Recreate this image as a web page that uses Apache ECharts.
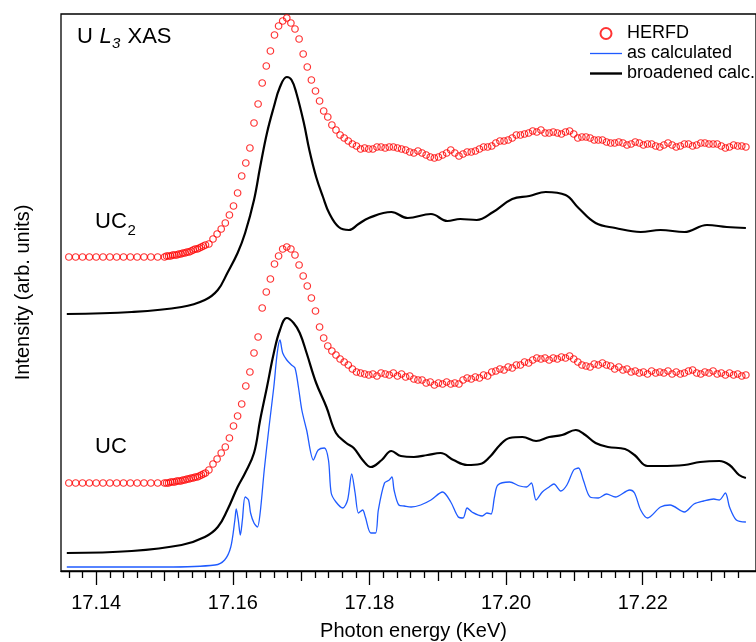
<!DOCTYPE html>
<html><head><meta charset="utf-8">
<script src="https://cdn.jsdelivr.net/npm/echarts@6/dist/echarts.min.js"></script>
<style>html,body{margin:0;padding:0;background:#fff}#c{width:756px;height:642px}</style>
</head><body><div id="c"></div>
<script>
// Photon energies (keV) of the HERFD measurement points
const herfdEnergy = [
17.136,17.137,17.138,17.139,17.140,17.141,17.142,17.143,17.144,17.145,17.146,17.147,17.148,17.149,17.150,
17.1503,17.1506,17.1509,17.1512,17.1515,17.1518,17.1521,17.1524,17.1527,17.1530,17.1533,17.1536,17.1539,17.1542,17.1545,17.1548,17.1551,17.1554,17.1557,17.1560,
17.1565,17.1571,17.1577,17.1583,17.1589,17.1595,17.1601,17.1607,17.1613,17.1619,
17.1625,17.1631,17.1637,17.1643,17.1649,17.1655,17.1661,17.1667,17.1673,17.1679,
17.1685,17.1691,17.1697,17.1703,17.1709,17.1715,17.1721,17.1727,17.1733,17.1739,
17.1745,17.1751,17.1757,17.1763,17.1769,17.1775,17.1781,17.1787,17.1793,17.1799,
17.1805,17.1811,17.1817,17.1823,17.1829,17.1835,17.1841,17.1847,17.1853,17.1859,
17.1865,17.1871,17.1877,17.1883,17.1889,17.1895,17.1901,17.1907,17.1913,17.1919,
17.1925,17.1931,17.1937,17.1943,17.1949,17.1955,17.1961,17.1967,17.1973,17.1979,
17.1985,17.1991,17.1997,17.2003,17.2009,17.2015,17.2021,17.2027,17.2033,17.2039,
17.2045,17.2051,17.2057,17.2063,17.2069,17.2075,17.2081,17.2087,17.2093,17.2099,
17.2105,17.2111,17.2117,17.2123,17.2129,17.2135,17.2141,17.2147,17.2153,17.2159,
17.2165,17.2171,17.2177,17.2183,17.2189,17.2195,17.2201,17.2207,17.2213,17.2219,
17.2225,17.2231,17.2237,17.2243,17.2249,17.2255,17.2261,17.2267,17.2273,17.2279,
17.2285,17.2291,17.2297,17.2303,17.2309,17.2315,17.2321,17.2327,17.2333,17.2339,17.2345,17.2351
];
// UC2 HERFD (offset intensity)
const uc2Herfd = [
3.14,3.14,3.14,3.14,3.14,3.14,3.14,3.14,3.14,3.14,3.14,3.14,3.14,3.14,3.14,
3.15,3.15,3.15,3.16,3.16,3.16,3.17,3.17,3.18,3.18,3.19,3.19,3.20,3.21,3.22,3.22,3.23,3.24,3.25,3.26,
3.27,3.32,3.37,3.42,3.48,3.56,3.65,3.78,3.95,4.08,
4.23,4.48,4.67,4.88,5.05,5.20,5.36,5.45,5.50,5.53,
5.48,5.42,5.32,5.17,5.04,4.91,4.80,4.70,4.60,4.54,
4.46,4.41,4.36,4.33,4.30,4.27,4.25,4.22,4.23,4.22,
4.22,4.24,4.24,4.23,4.24,4.24,4.23,4.22,4.21,4.19,
4.18,4.20,4.18,4.16,4.14,4.13,4.14,4.16,4.18,4.21,
4.18,4.15,4.17,4.19,4.19,4.20,4.22,4.24,4.24,4.25,
4.28,4.30,4.30,4.31,4.33,4.36,4.36,4.37,4.38,4.40,
4.39,4.41,4.38,4.38,4.39,4.38,4.37,4.39,4.40,4.37,
4.33,4.34,4.34,4.33,4.31,4.31,4.31,4.29,4.28,4.28,
4.29,4.28,4.26,4.27,4.29,4.28,4.26,4.27,4.27,4.25,
4.24,4.26,4.28,4.26,4.24,4.25,4.27,4.27,4.25,4.26,
4.28,4.28,4.27,4.27,4.27,4.25,4.23,4.24,4.26,4.25,4.25,4.24
];
// UC HERFD (offset intensity)
const ucHerfd = [
0.88,0.88,0.88,0.88,0.88,0.88,0.88,0.88,0.88,0.88,0.88,0.88,0.88,0.88,0.88,
0.88,0.88,0.89,0.89,0.89,0.90,0.90,0.90,0.91,0.91,0.92,0.92,0.93,0.93,0.94,0.94,0.95,0.96,0.97,0.98,
1.01,1.07,1.12,1.18,1.24,1.33,1.45,1.55,1.67,1.85,
1.99,2.18,2.34,2.63,2.79,2.92,3.07,3.15,3.22,3.24,
3.22,3.16,3.06,2.95,2.85,2.73,2.60,2.44,2.33,2.25,
2.20,2.16,2.12,2.09,2.06,2.02,1.99,1.98,1.97,1.96,
1.97,1.95,1.98,1.97,1.96,1.98,1.95,1.97,1.94,1.95,
1.92,1.91,1.91,1.88,1.89,1.86,1.88,1.87,1.89,1.87,
1.88,1.87,1.91,1.93,1.92,1.94,1.93,1.96,1.95,1.99,
2.00,2.02,2.01,2.04,2.03,2.06,2.06,2.09,2.08,2.11,
2.13,2.12,2.13,2.11,2.13,2.12,2.14,2.13,2.15,2.12,
2.09,2.06,2.05,2.04,2.07,2.06,2.08,2.06,2.05,2.02,
2.04,2.01,2.02,1.99,2.00,1.98,1.99,1.97,2.00,1.98,
1.99,1.98,2.00,1.97,1.99,1.97,1.98,2.00,2.01,1.98,
1.97,1.99,1.98,2.00,1.97,1.98,1.96,1.98,1.96,1.97,1.95,1.96
];
// UC2 broadened calculation
const uc2BroadE = [17.1357,17.1452,17.1525,17.1559,17.1578,17.1592,17.1607,17.1618,17.1631,17.1640,17.1650,17.1660,17.1669,17.1679,17.1686,17.1693,17.1704,17.1712,17.1722,17.1732,17.1741,17.1755,17.1770,17.1784,17.1799,17.1832,17.1856,17.1890,17.1914,17.1933,17.1957,17.1981,17.2009,17.2034,17.2058,17.2087,17.2106,17.2131,17.2160,17.2197,17.2226,17.2261,17.2294,17.2323,17.2351];
const uc2BroadV = [2.57,2.59,2.64,2.71,2.81,2.98,3.18,3.38,3.71,4.04,4.38,4.64,4.84,4.94,4.91,4.78,4.48,4.21,3.94,3.74,3.58,3.44,3.41,3.47,3.53,3.59,3.53,3.57,3.50,3.52,3.51,3.59,3.72,3.75,3.79,3.76,3.63,3.48,3.43,3.39,3.41,3.39,3.46,3.44,3.43];
// UC broadened calculation
const ucBroadE = [17.1357,17.1452,17.1525,17.1559,17.1578,17.1592,17.1607,17.1618,17.1631,17.1640,17.1650,17.1660,17.1669,17.1679,17.1689,17.1698,17.1708,17.1722,17.1737,17.1751,17.1766,17.1777,17.1790,17.1802,17.1818,17.1832,17.1846,17.1865,17.1885,17.1904,17.1923,17.1943,17.1962,17.1976,17.1991,17.2005,17.2024,17.2044,17.2063,17.2082,17.2102,17.2116,17.2131,17.2149,17.2174,17.2188,17.2207,17.2226,17.2261,17.2284,17.2312,17.2327,17.2341,17.2351];
const ucBroadV = [0.18,0.20,0.26,0.34,0.44,0.61,0.84,0.98,1.18,1.51,1.84,2.18,2.41,2.53,2.48,2.38,2.18,1.88,1.64,1.38,1.28,1.23,1.11,1.04,1.11,1.20,1.15,1.14,1.16,1.18,1.11,1.06,1.07,1.14,1.26,1.33,1.34,1.30,1.34,1.36,1.41,1.36,1.28,1.24,1.22,1.16,1.05,1.05,1.06,1.09,1.10,1.06,0.96,0.93];
// UC as calculated
const ucCalcE = [17.1357,17.1501,17.1574,17.1588,17.1597,17.1603,17.1605,17.1608,17.1611,17.1614,17.1618,17.1623,17.1626,17.1631,17.1636,17.1640,17.1646,17.1653,17.1660,17.1665,17.1669,17.1673,17.1679,17.1686,17.1691,17.1696,17.1701,17.1708,17.1718,17.1725,17.1734,17.1740,17.1744,17.1751,17.1761,17.1768,17.1774,17.1779,17.1784,17.1790,17.1794,17.1802,17.1809,17.1813,17.1822,17.1829,17.1833,17.1836,17.1843,17.1851,17.1861,17.1875,17.1890,17.1907,17.1919,17.1930,17.1937,17.1943,17.1950,17.1965,17.1972,17.1978,17.1983,17.1988,17.2005,17.2020,17.2030,17.2037,17.2044,17.2053,17.2063,17.2070,17.2080,17.2089,17.2099,17.2106,17.2113,17.2123,17.2135,17.2147,17.2160,17.2181,17.2188,17.2197,17.2207,17.2226,17.2240,17.2261,17.2275,17.2289,17.2304,17.2312,17.2321,17.2327,17.2337,17.2351];
const ucCalcV = [0.04,0.04,0.06,0.11,0.24,0.51,0.62,0.51,0.36,0.51,0.74,0.71,0.58,0.48,0.44,0.58,1.01,1.44,1.84,2.18,2.31,2.18,2.11,2.06,2.03,1.84,1.61,1.41,1.11,1.21,1.23,1.11,0.78,0.69,0.63,0.71,0.97,0.78,0.58,0.61,0.54,0.38,0.38,0.61,0.88,0.91,0.94,0.81,0.66,0.65,0.64,0.66,0.71,0.79,0.69,0.54,0.53,0.63,0.59,0.55,0.58,0.57,0.74,0.86,0.89,0.85,0.84,0.88,0.71,0.79,0.84,0.87,0.80,0.86,1.01,1.03,0.91,0.74,0.73,0.77,0.74,0.81,0.78,0.61,0.53,0.64,0.66,0.59,0.67,0.70,0.72,0.71,0.78,0.64,0.51,0.49];

const majorTicks = [17.14,17.16,17.18,17.20,17.22];
const mediumTicks = [17.15,17.17,17.19,17.21,17.23];
const minorTicks = [17.136,17.138,17.142,17.144,17.146,17.148,17.152,17.154,17.156,17.158,17.162,17.164,17.166,17.168,17.172,17.174,17.176,17.178,17.182,17.184,17.186,17.188,17.192,17.194,17.196,17.198,17.202,17.204,17.206,17.208,17.212,17.214,17.216,17.218,17.222,17.224,17.226,17.228,17.232,17.234];

const X_MIN = 17.13485, X_MAX = 17.23658;
const FONT = "'Liberation Sans', Arial, Helvetica, sans-serif";

function zip(a, b) { const n = Math.min(a.length, b.length); const r = []; for (let i = 0; i < n; i++) r.push([a[i], b[i]]); return r; }

function tickAxis(values, len, withLine, withLabels) {
  return {
    type: 'value', position: 'bottom', min: X_MIN, max: X_MAX,
    axisLine: { show: withLine, onZero: false, lineStyle: { color: '#000', width: 1.3 } },
    axisTick: { show: true, customValues: values, length: len, lineStyle: { color: '#000', width: 1.3 } },
    axisLabel: withLabels ? { show: true, customValues: values, formatter: v => v.toFixed(2), fontSize: 20, fontFamily: FONT, color: '#000', margin: 22 } : { show: false },
    splitLine: { show: false }
  };
}

const chart = echarts.init(document.getElementById('c'), null, { renderer: 'canvas' });
const herfdStyle = { color: 'rgba(255,255,255,0)', borderColor: '#ff0000', borderWidth: 1.2 };
chart.setOption({
  animation: false,
  backgroundColor: '#fff',
  grid: { left: 61, top: 14, right: -10, bottom: 71, show: true, borderColor: '#000', borderWidth: 1.3, backgroundColor: 'transparent' },
  xAxis: [tickAxis(majorTicks, 14, true, true), tickAxis(mediumTicks, 10, false, false), tickAxis(minorTicks, 7, false, false)],
  yAxis: { type: 'value', min: 0, max: 5.57, show: false },
  legend: {
    data: [
      { name: 'HERFD' },
      { name: 'as calculated', icon: 'path://M0,0H32V1.3H0Z' },
      { name: 'broadened calc.', icon: 'path://M0,0H32V2.4H0Z' }
    ],
    orient: 'vertical', left: 590, top: 24, padding: 0,
    itemWidth: 32, itemHeight: 11, itemGap: 1, selectedMode: false,
    textStyle: { fontSize: 18, fontFamily: FONT, color: '#000', lineHeight: 19 }
  },
  series: [
    { name: 'broadened calc.', type: 'line', data: zip(uc2BroadE, uc2BroadV), symbol: 'none', smooth: 0.4, lineStyle: { color: '#000', width: 2.2 }, itemStyle: { color: '#000' } },
    { name: 'broadened calc.', type: 'line', data: zip(ucBroadE, ucBroadV), symbol: 'none', smooth: 0.4, lineStyle: { color: '#000', width: 2.2 }, itemStyle: { color: '#000' } },
    { name: 'as calculated', type: 'line', data: zip(ucCalcE, ucCalcV), symbol: 'none', smooth: 0.3, lineStyle: { color: '#1f5bff', width: 1.3 }, itemStyle: { color: '#1f5bff' } },
    { name: 'HERFD', type: 'scatter', data: zip(herfdEnergy, uc2Herfd), symbol: 'circle', symbolSize: 6.5, itemStyle: herfdStyle, z: 3 },
    { name: 'HERFD', type: 'scatter', data: zip(herfdEnergy, ucHerfd), symbol: 'circle', symbolSize: 6.5, itemStyle: herfdStyle, z: 3 }
  ],
  graphic: [
    { type: 'text', x: 77, y: 36.5, style: { text: 'U', font: '22px ' + FONT, fill: '#000', verticalAlign: 'middle' } },
    { type: 'text', x: 99.5, y: 36.5, style: { text: 'L', font: 'italic 22px ' + FONT, fill: '#000', verticalAlign: 'middle' } },
    { type: 'text', x: 112, y: 43.5, style: { text: '3', font: 'italic 15px ' + FONT, fill: '#000', verticalAlign: 'middle' } },
    { type: 'text', x: 127.5, y: 36.5, style: { text: 'XAS', font: '22px ' + FONT, fill: '#000', verticalAlign: 'middle' } },
    { type: 'text', x: 95, y: 221.7, style: { text: 'UC', font: '22px ' + FONT, fill: '#000', verticalAlign: 'middle' } },
    { type: 'text', x: 127.5, y: 230.5, style: { text: '2', font: '15px ' + FONT, fill: '#000', verticalAlign: 'middle' } },
    { type: 'text', x: 95, y: 446.7, style: { text: 'UC', font: '22px ' + FONT, fill: '#000', verticalAlign: 'middle' } },
    { type: 'text', x: 413.5, y: 631.5, style: { text: 'Photon energy (KeV)', font: '20px ' + FONT, fill: '#000', align: 'center', verticalAlign: 'middle' } },
    { type: 'text', x: 23, y: 292.5, rotation: Math.PI / 2, style: { text: 'Intensity (arb. units)', font: '20px ' + FONT, fill: '#000', align: 'center', verticalAlign: 'middle' } }
  ]
});
</script></body></html>
